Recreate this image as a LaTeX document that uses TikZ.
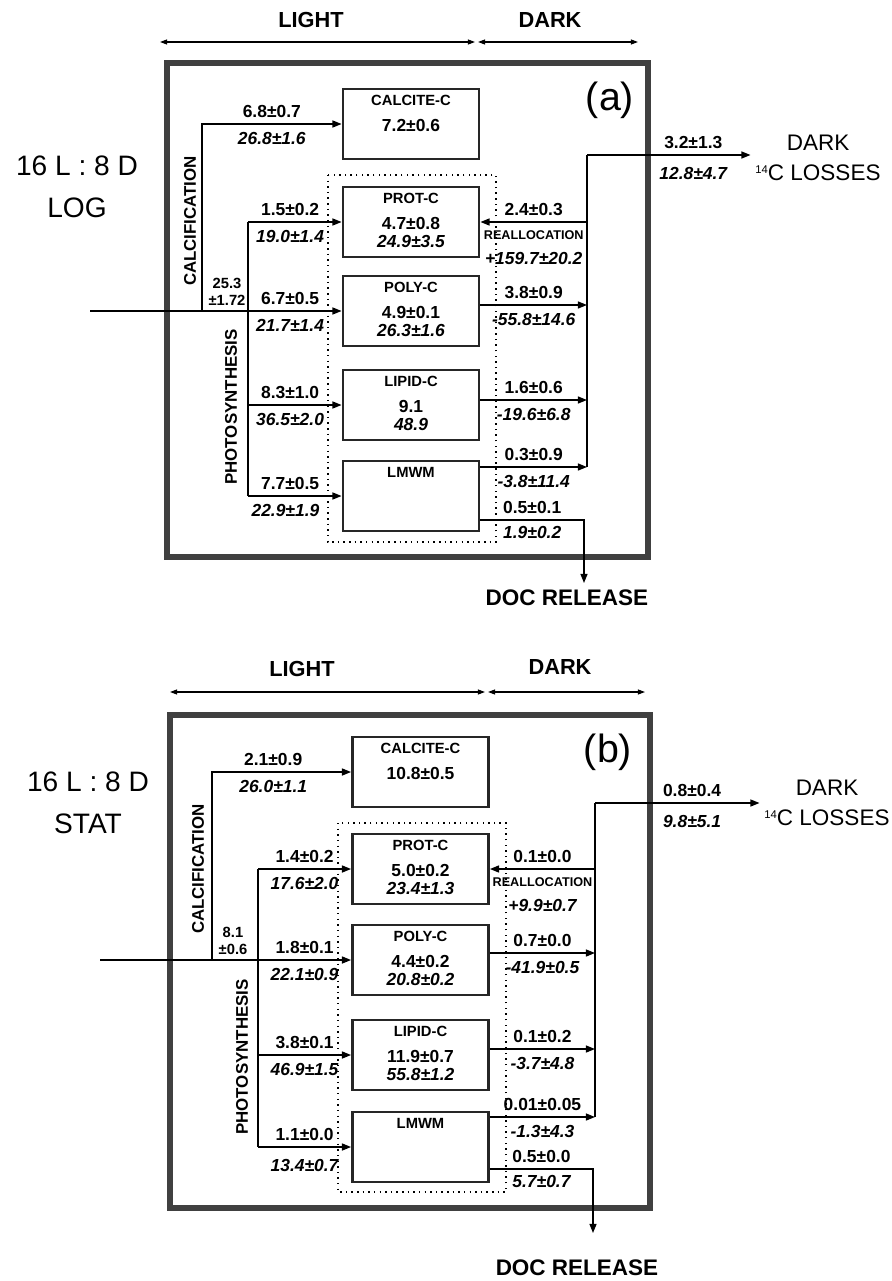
\documentclass[tikz,border=0pt]{standalone}
\usepackage{fontspec}
\setmainfont{Liberation Sans}
\usetikzlibrary{positioning,arrows.meta,calc}

\tikzset{
  frame/.style={draw=black!75, line width=4pt},
  pool/.style={draw=black!85, line width=2pt, minimum width=3.4cm, minimum height=1.75cm,
    align=center, inner sep=0pt, font=\bfseries\fontsize{12.4}{12.5}\selectfont},
  flow/.style={line width=1pt, -{Triangle[length=6.5pt,width=5pt]}},
  wire/.style={line width=1pt},
  span/.style={line width=0.8pt, {Triangle[length=5pt,width=3.5pt]}-{Triangle[length=5pt,width=3.5pt]}},
  mix/.style={line width=1pt, dash pattern=on 1pt off 3pt},
  num/.style={font=\bfseries\fontsize{12.4}{14}\selectfont, inner sep=2pt},
  inum/.style={font=\bfseries\itshape\fontsize{12.4}{14}\selectfont, inner sep=2pt},
  tot/.style={font=\bfseries\fontsize{10.5}{12.5}\selectfont, align=center, inner sep=1pt},
  realloc/.style={font=\bfseries\fontsize{9}{10}\selectfont, inner sep=1pt},
  proc/.style={font=\bfseries\fontsize{12}{14}\selectfont, rotate=90},
  hdr/.style={font=\bfseries\fontsize{15.5}{18}\selectfont},
  cond/.style={font=\fontsize{20}{30}\selectfont, align=center},
  loss/.style={font=\fontsize{16}{21}\selectfont, align=center},
  release/.style={font=\bfseries\fontsize{16}{18}\selectfont},
  tag/.style={font=\fontsize{28}{30}\selectfont}
}
\newcommand{\pooltext}[3]{{\fontsize{10.5}{12}\selectfont #1\strut}\\[6pt]#2\strut\\{\itshape #3\strut}}
\newcommand{\cfourteen}{{\fontsize{8}{9}\selectfont\raisebox{5pt}{14}}C}

\begin{document}
\begin{tikzpicture}[x=0.025cm, y=-0.025cm]
  \useasboundingbox (0,0) rectangle (892,1281);

  % ---------- panel (a) ----------
  \node[hdr] (alight) at (311,20) {LIGHT};
  \node[hdr] (adark)  at (550,20) {DARK};
  \coordinate (al1) at (160,42);
  \coordinate (al2) at (475,42);
  \coordinate (ad1) at (478,42);
  \coordinate (ad2) at (638,42);
  \draw[span] (al1) -- (al2);
  \draw[span] (ad1) -- (ad2);
  \node[cond] (acond) at (77,187) {16 L : 8 D\\LOG};
  \draw[frame] (167,63) rectangle (648,557);
  \node[tag] (atag) at (610,100) {(a)};
  \draw[mix] (328,175) rectangle (496,542);

  \node[pool] (acalc)  at (411,124) {\pooltext{CALCITE-C}{7.2±0.6}{}};
  \node[pool] (aprot)  at (411,222) {\pooltext{PROT-C}{4.7±0.8}{24.9±3.5}};
  \node[pool] (apoly)  at (411,311) {\pooltext{POLY-C}{4.9±0.1}{26.3±1.6}};
  \node[pool] (alipid) at (411,405) {\pooltext{LIPID-C}{9.1}{48.9}};
  \node[pool] (almwm)  at (411,496) {\pooltext{LMWM}{}{}};

  \coordinate (ain) at (90,311);
  \coordinate (acj) at (202,311);
  \coordinate (apj) at (248,311);
  \node[proc] (acalt) at (190,221) {CALCIFICATION};
  \node[proc] (aphot) at (231,407) {PHOTOSYNTHESIS};
  \node[tot] (atot) at (227,292) {25.3\\±1.72};

  \draw[wire] (ain) -- (apj);
  \draw[flow] (acj) |- node[num,above=2pt,pos=.75] (a1u) {6.8±0.7}
    node[inum,below=3.5pt,pos=.75] (a1d) {26.8±1.6} (acalc.west);
  \draw[wire] (apj |- aprot.west) -- (apj |- almwm.west);
  \draw[flow] (apj |- aprot.west) -- node[num,above=2pt,pos=.45] (a2u) {1.5±0.2}
    node[inum,below=3.5pt,pos=.45] (a2d) {19.0±1.4} (aprot.west);
  \draw[flow] (apj) -- node[num,above=2pt,pos=.45] (a3u) {6.7±0.5}
    node[inum,below=3.5pt,pos=.45] (a3d) {21.7±1.4} (apoly.west);
  \draw[flow] (apj |- alipid.west) -- node[num,above=2pt,pos=.45] (a4u) {8.3±1.0}
    node[inum,below=3.5pt,pos=.45] (a4d) {36.5±2.0} (alipid.west);
  \draw[flow] (apj |- almwm.west) -- node[num,above=2pt,pos=.45] (a5u) {7.7±0.5}
    node[inum,below=3.5pt,pos=.4] (a5d) {22.9±1.9} (almwm.west);

  % dark side
  \coordinate (acol) at (587,155);
  \coordinate (ac2) at (587,305);
  \coordinate (ac3) at (587,400);
  \coordinate (ac4) at (587,467);
  \coordinate (adoc) at (584,520);
  \coordinate (adtip) at (584,583);
  \node[loss] (aloss) at (818,158) {DARK\\\cfourteen{} LOSSES};
  \node[release] (adocr) at (567,598) {DOC RELEASE};
  \draw[wire] (acol) -- (ac4);
  \draw[flow] (acol) -- node[num,above=2pt,pos=.65] (a0u) {3.2±1.3}
    node[inum,below=6pt,pos=.65] (a0d) {12.8±4.7} (aloss.west |- acol);
  \draw[flow] (acol |- aprot.east) -- node[num,above=2pt] (a6u) {2.4±0.3}
    node[realloc,below=5pt] (a6r) {REALLOCATION}
    node[inum,below=19pt] (a6d) {+159.7±20.2} (aprot.east);
  \draw[flow] (apoly.east |- ac2) -- node[num,above=2pt] (a7u) {3.8±0.9}
    node[inum,below=3.5pt] (a7d) {-55.8±14.6} (ac2);
  \draw[flow] (alipid.east |- ac3) -- node[num,above=2pt] (a8u) {1.6±0.6}
    node[inum,below=3.5pt] (a8d) {-19.6±6.8} (ac3);
  \draw[flow] (almwm.east |- ac4) -- node[num,above=2pt] (a9u) {0.3±0.9}
    node[inum,below=3.5pt] (a9d) {-3.8±11.4} (ac4);
  \draw[flow] (almwm.east |- adoc) -- node[num,above=2pt] (a10u) {0.5±0.1}
    node[inum,below=2pt] (a10d) {1.9±0.2} (adoc) -- (adtip);

  % ---------- panel (b) ----------
  \node[hdr] (blight) at (302,669) {LIGHT};
  \node[hdr] (bdark)  at (560,667) {DARK};
  \coordinate (bl1) at (170,692);
  \coordinate (bl2) at (485,692);
  \coordinate (bd1) at (488,692);
  \coordinate (bd2) at (645,692);
  \draw[span] (bl1) -- (bl2);
  \draw[span] (bd1) -- (bd2);
  \node[cond] (bcond) at (88,803) {16 L : 8 D\\STAT};
  \draw[frame] (170,715) rectangle (650,1208);
  \node[tag] (btag) at (608,752) {(b)};
  \draw[mix] (338,823) rectangle (506,1192);

  \node[pool] (bcalc)  at (420.5,772)  {\pooltext{CALCITE-C}{10.8±0.5}{}};
  \node[pool] (bprot)  at (420.5,869)  {\pooltext{PROT-C}{5.0±0.2}{23.4±1.3}};
  \node[pool] (bpoly)  at (420.5,960)  {\pooltext{POLY-C}{4.4±0.2}{20.8±0.2}};
  \node[pool] (blipid) at (420.5,1055) {\pooltext{LIPID-C}{11.9±0.7}{55.8±1.2}};
  \node[pool] (blmwm)  at (420.5,1147) {\pooltext{LMWM}{}{}};

  \coordinate (bin) at (100,960);
  \coordinate (bcj) at (212,960);
  \coordinate (bpj) at (258,960);
  \node[proc] (bcalt) at (198,869) {CALCIFICATION};
  \node[proc] (bphot) at (242,1057) {PHOTOSYNTHESIS};
  \node[tot] (btot) at (233,941) {8.1\\±0.6};

  \draw[wire] (bin) -- (bpj);
  \draw[flow] (bcj) |- node[num,above=2pt,pos=.72] (b1u) {2.1±0.9}
    node[inum,below=3.5pt,pos=.72] (b1d) {26.0±1.1} (bcalc.west);
  \draw[wire] (bpj |- bprot.west) -- (bpj |- blmwm.west);
  \draw[flow] (bpj |- bprot.west) -- node[num,above=2pt] (b2u) {1.4±0.2}
    node[inum,below=3.5pt] (b2d) {17.6±2.0} (bprot.west);
  \draw[flow] (bpj) -- node[num,above=2pt] (b3u) {1.8±0.1}
    node[inum,below=3.5pt] (b3d) {22.1±0.9} (bpoly.west);
  \draw[flow] (bpj |- blipid.west) -- node[num,above=2pt] (b4u) {3.8±0.1}
    node[inum,below=3.5pt] (b4d) {46.9±1.5} (blipid.west);
  \draw[flow] (bpj |- blmwm.west) -- node[num,above=2pt] (b5u) {1.1±0.0}
    node[inum,below=6pt] (b5d) {13.4±0.7} (blmwm.west);

  % dark side
  \coordinate (bcol) at (595,803);
  \coordinate (bc2) at (595,953);
  \coordinate (bc3) at (595,1049);
  \coordinate (bc4) at (595,1117);
  \coordinate (bdoc) at (593,1169);
  \coordinate (bdtip) at (593,1233);
  \node[loss] (bloss) at (827,803) {DARK\\\cfourteen{} LOSSES};
  \node[release] (bdocr) at (577,1268) {DOC RELEASE};
  \draw[wire] (bcol) -- (bc4);
  \draw[flow] (bcol) -- node[num,above=2pt,pos=.59] (b0u) {0.8±0.4}
    node[inum,below=6pt,pos=.59] (b0d) {9.8±5.1} (bloss.west |- bcol);
  \draw[flow] (bcol |- bprot.east) -- node[num,above=2pt] (b6u) {0.1±0.0}
    node[realloc,below=5pt] (b6r) {REALLOCATION}
    node[inum,below=19pt] (b6d) {+9.9±0.7} (bprot.east);
  \draw[flow] (bpoly.east |- bc2) -- node[num,above=2pt] (b7u) {0.7±0.0}
    node[inum,below=3.5pt] (b7d) {-41.9±0.5} (bc2);
  \draw[flow] (blipid.east |- bc3) -- node[num,above=2pt] (b8u) {0.1±0.2}
    node[inum,below=3.5pt] (b8d) {-3.7±4.8} (bc3);
  \draw[flow] (blmwm.east |- bc4) -- node[num,above=2pt] (b9u) {0.01±0.05}
    node[inum,below=3.5pt] (b9d) {-1.3±4.3} (bc4);
  \draw[flow] (blmwm.east |- bdoc) -- node[num,above=2pt] (b10u) {0.5±0.0}
    node[inum,below=2pt] (b10d) {5.7±0.7} (bdoc) -- (bdtip);
\end{tikzpicture}
\end{document}
